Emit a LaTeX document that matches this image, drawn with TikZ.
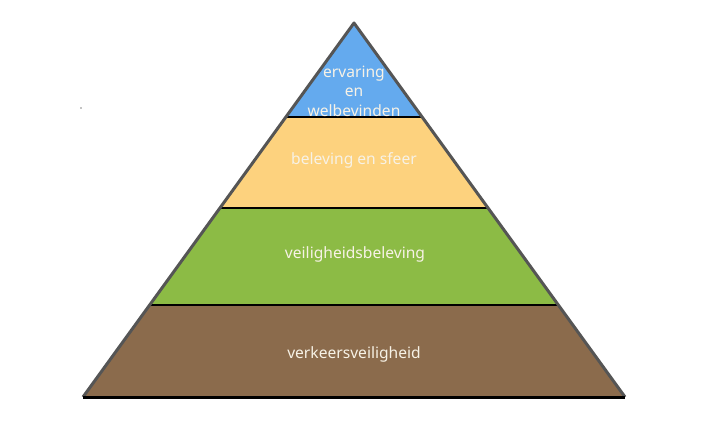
\documentclass[tikz,border=0pt]{standalone}
\usepackage{fontspec}
\setmainfont{Noto Sans}
\usetikzlibrary{calc}
\definecolor{lblue}{HTML}{64AAEE}
\definecolor{lorange}{HTML}{FDD27E}
\definecolor{lgreen}{HTML}{8CBB45}
\definecolor{lbrown}{HTML}{8B6B4C}
\definecolor{ltext}{HTML}{F7F2E6}
\definecolor{ledge}{HTML}{555555}
\tikzset{
  layertext/.style={text=ltext, font=\fontsize{15.6}{19.5}\selectfont, align=center, inner sep=0pt},
  sep/.style={draw=black, line width=1.6pt},
  side/.style={draw=ledge, line width=3pt, line join=round},
}
\begin{document}
\begin{tikzpicture}[x=1pt,y=-1pt]
\useasboundingbox (0,0) rectangle (712,435);
\fill[white] (0,0) rectangle (712,435);
\coordinate (A) at (354,23);
\coordinate (L) at (83,397);
\coordinate (R) at (625,397);
\coordinate (L1) at ($(L)!0.2460!(A)$);
\coordinate (R1) at ($(R)!0.2460!(A)$);
\coordinate (L2) at ($(L)!0.5053!(A)$);
\coordinate (R2) at ($(R)!0.5053!(A)$);
\coordinate (L3) at ($(L)!0.7487!(A)$);
\coordinate (R3) at ($(R)!0.7487!(A)$);
\fill[lbrown] (L) -- (R) -- (R1) -- (L1) -- cycle;
\fill[lgreen] (L1) -- (R1) -- (R2) -- (L2) -- cycle;
\fill[lorange] (L2) -- (R2) -- (R3) -- (L3) -- cycle;
\fill[lblue] (L3) -- (R3) -- (A) -- cycle;
\draw[sep] (L1) -- (R1);
\draw[sep] (L2) -- (R2);
\draw[sep] (L3) -- (R3);
\draw[side] (L) -- (A) -- (R);
\draw[draw=black, line width=3pt] (L) -- (R);
\node[layertext] (t4) at (354,91) {ervaring\\en\\welbevinden};
\node[layertext] (t3) at (354,160) {beleving en sfeer};
\node[layertext] (t2) at (355,254) {veiligheidsbeleving};
\node[layertext] (t1) at (354,354) {verkeersveiligheid};
\fill[black] (81,108) circle (0.6);
\end{tikzpicture}
\end{document}
